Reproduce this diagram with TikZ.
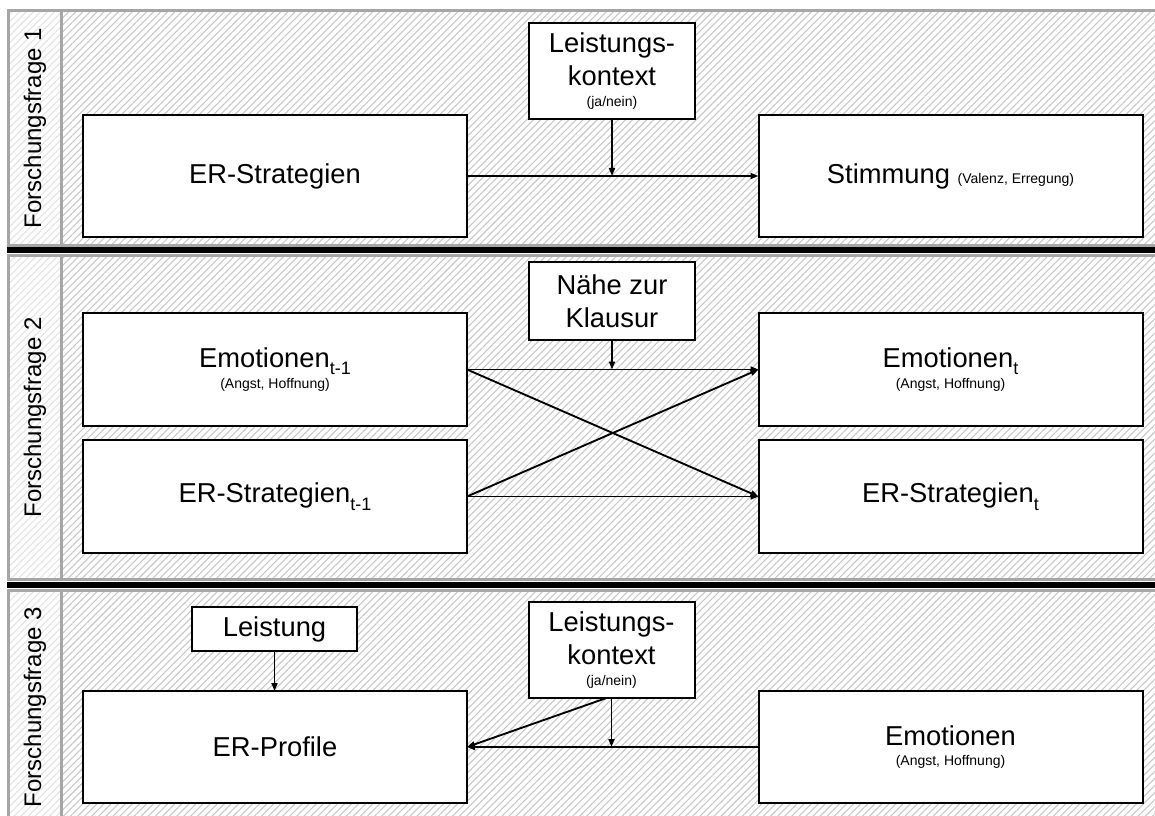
\documentclass[tikz,border=0pt]{standalone}
\usepackage{fontspec}
\setmainfont{Liberation Sans}
\usetikzlibrary{positioning, arrows.meta, patterns.meta}

\newcommand\klein{\fontsize{10.5}{12}\selectfont}
\newcommand\tief[1]{\raisebox{-5.5pt}{\fontsize{13.5}{14}\selectfont #1}}

\begin{document}
\begin{tikzpicture}[
    x=0.75pt, y=-0.75pt,
    hatch/.style={pattern={Lines[angle=45,distance=3.75pt,line width=0.8pt]}, pattern color=black!22},
    hatchlight/.style={pattern={Lines[angle=45,distance=3.75pt,line width=0.8pt]}, pattern color=black!11},
    frame/.style={draw=black!35, line width=2.25pt},
    sep/.style={draw=black, line width=4.5pt},
    box/.style={draw, fill=white, line width=1.5pt, inner sep=0pt, outer sep=0pt, align=center, font=\fontsize{20.5}{24.5}\selectfont},
    bigbox/.style={box, minimum width=288pt},
    modbox/.style={box, minimum width=124.5pt},
    link/.style={-{Triangle[length=6pt,width=4.5pt]}, line width=1.4pt},
    frage/.style={rotate=90, font=\fontsize{18}{20}\selectfont}
  ]
  \useasboundingbox (0,0) rectangle (1155,816);

  % panels
  \foreach \top/\bot/\n in {11/245.5/1, 255.5/579.5/2, 590.5/824/3}{
    \fill[white] (8.5,\top) rectangle (1170,\bot);
    \fill[hatchlight] (8.5,\top) rectangle (61.5,\bot);
    \fill[hatch] (61.5,\top) rectangle (1170,\bot);
    \draw[frame] (8.5,\top) rectangle (1170,\bot);
    \draw[frame] (61.5,\top) -- (61.5,\bot);
    \node[frage] (ff\n) at (35,{(\top+\bot)/2}) {Forschungsfrage \n};
  }
  \draw[sep] (7,250.5) -- (1170,250.5);
  \draw[sep] (7,585) -- (1170,585);

  % Forschungsfrage 1
  \node[bigbox, minimum height=91.5pt] (strat) at (275,176) {ER-Strategien};
  \node[bigbox, minimum height=91.5pt] (stimm) at (950.5,176) {Stimmung {\klein (Valenz, Erregung)}};
  \node[modbox, minimum height=72pt] (kontextA) at (612,71) {Leistungs-\\kontext\\[-8.5pt]{\klein (ja/nein)}};
  \draw[link] (strat.east) -- (stimm.west);
  \draw[link] (kontextA) -- (kontextA |- strat.east);

  % Forschungsfrage 2
  \node[bigbox, minimum height=84.75pt] (emoA) at (275,369.5) {Emotionen\tief{t-1}\\[-9pt]{\klein (Angst, Hoffnung)}};
  \node[bigbox, minimum height=84.75pt] (stratA) at (275,496.5) {ER-Strategien\tief{t-1}};
  \node[bigbox, minimum height=84.75pt] (emoB) at (950.5,369.5) {Emotionen\tief{t}\\[-9pt]{\klein (Angst, Hoffnung)}};
  \node[bigbox, minimum height=84.75pt] (stratB) at (950.5,496.5) {ER-Strategien\tief{t}};
  \node[modbox, minimum height=58.5pt] (naehe) at (612,301) {Nähe zur\\Klausur};
  \draw[link] (emoA.east) -- (emoB.west);
  \draw[link] (emoA.east) -- (stratB.west);
  \draw[link] (stratA.east) -- (emoB.west);
  \draw[link] (stratA.east) -- (stratB.west);
  \draw[link] (naehe) -- (naehe |- emoA.east);

  % Forschungsfrage 3
  \node[box, minimum width=123.75pt, minimum height=33pt] (leist) at (274.5,629) {Leistung};
  \node[bigbox, minimum height=84pt] (profil) at (275,747) {ER-Profile};
  \node[modbox, minimum height=72pt] (kontextB) at (611.5,650) {Leistungs-\\kontext\\[-8.5pt]{\klein (ja/nein)}};
  \node[bigbox, minimum height=84pt] (emoC) at (950.5,747) {Emotionen\\[-9pt]{\klein (Angst, Hoffnung)}};
  \draw[link] (emoC.west) -- (profil.east);
  \draw[link] (kontextB) -- (kontextB |- profil.east);
  \draw[link] ([xshift=-3.75pt]kontextB.south) -- (profil.east);
  \draw[link] (leist) -- (leist |- profil.north);
\end{tikzpicture}
\end{document}
